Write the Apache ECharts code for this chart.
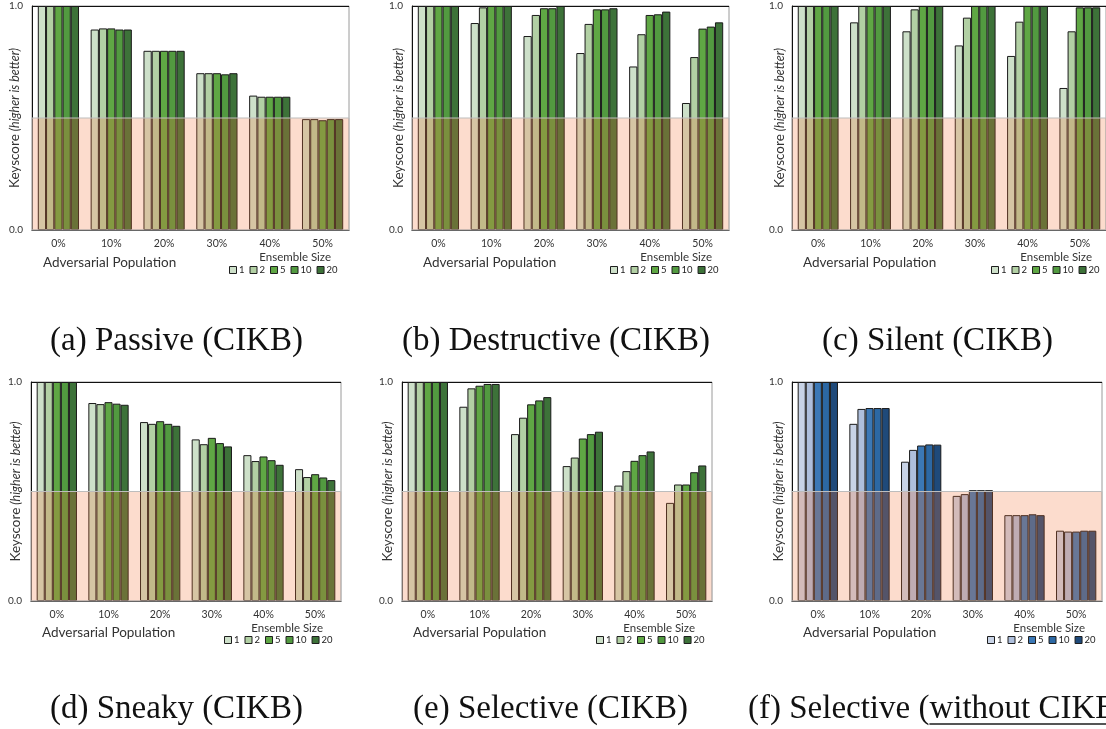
<!DOCTYPE html>
<html>
<head>
<meta charset="utf-8">
<script src="https://cdn.jsdelivr.net/npm/echarts@6/dist/echarts.min.js"></script>
<style>
  html, body { margin: 0; padding: 0; background: #fff; overflow: hidden; }
  #chart { width: 1106px; height: 729px; }
</style>
</head>
<body>
<div id="chart"></div>
<script>
// Adversarial population share on the x axis, one bar per ensemble size.
const categories = ['0%', '10%', '20%', '30%', '40%', '50%'];
const ensembleSizes = ['1', '2', '5', '10', '20'];
const yTicks = [0, 1];

// Keyscore per ensemble size (rows: 1, 2, 5, 10, 20), one value per population share.
const passive = [
  [1.0, 0.895, 0.80, 0.70, 0.60, 0.495],
  [1.0, 0.90, 0.80, 0.70, 0.595, 0.495],
  [1.0, 0.90, 0.80, 0.70, 0.595, 0.49],
  [1.0, 0.895, 0.80, 0.695, 0.595, 0.495],
  [1.0, 0.895, 0.80, 0.70, 0.595, 0.495]
];
const destructive = [
  [1.0, 0.924, 0.866, 0.79, 0.73, 0.567],
  [1.0, 0.994, 0.96, 0.92, 0.874, 0.772],
  [1.0, 1.0, 0.99, 0.985, 0.96, 0.899],
  [1.0, 1.0, 0.99, 0.985, 0.963, 0.908],
  [1.0, 1.0, 1.0, 0.99, 0.975, 0.927]
];
const silent = [
  [1.0, 0.927, 0.887, 0.824, 0.777, 0.634],
  [1.0, 1.0, 0.985, 0.948, 0.93, 0.887],
  [1.0, 1.0, 1.0, 1.0, 1.0, 0.994],
  [1.0, 1.0, 1.0, 1.0, 1.0, 0.994],
  [1.0, 1.0, 1.0, 1.0, 1.0, 0.994]
];
const sneaky = [
  [1.0, 0.904, 0.817, 0.738, 0.666, 0.602],
  [1.0, 0.899, 0.809, 0.716, 0.639, 0.566],
  [1.0, 0.908, 0.821, 0.745, 0.66, 0.579],
  [1.0, 0.901, 0.809, 0.721, 0.643, 0.564],
  [1.0, 0.896, 0.80, 0.706, 0.622, 0.552]
];
const selective = [
  [1.0, 0.887, 0.762, 0.616, 0.527, 0.448],
  [1.0, 0.971, 0.837, 0.655, 0.593, 0.532],
  [1.0, 0.983, 0.898, 0.742, 0.64, 0.532],
  [1.0, 0.991, 0.916, 0.762, 0.666, 0.588],
  [1.0, 0.991, 0.931, 0.773, 0.683, 0.619]
];
const selectiveNoCikb = [
  [1.0, 0.809, 0.636, 0.48, 0.392, 0.321],
  [1.0, 0.877, 0.69, 0.488, 0.392, 0.317],
  [1.0, 0.881, 0.71, 0.506, 0.392, 0.317],
  [1.0, 0.881, 0.715, 0.506, 0.396, 0.321],
  [1.0, 0.881, 0.714, 0.506, 0.392, 0.321]
];
const threshold = 0.5;

const captions = [
  '(a) Passive (CIKB)',
  '(b) Destructive (CIKB)',
  '(c) Silent (CIKB)',
  '(d) Sneaky (CIKB)',
  '(e) Selective (CIKB)',
  '(f) Selective (without CIKB)'
];

const greens = ['#cde0c9', '#b2d0a4', '#5fa744', '#529a40', '#3d7239'];
const blues = ['#c8d3e6', '#aebfdc', '#3b78b6', '#2c68a4', '#1f4a7a'];

const FONT = 'Lato, "Open Sans", sans-serif';
const SERIF = '"Liberation Serif", "DejaVu Serif", serif';
const CAP_SIZE = 33;

// Panel geometry (grid box, y-title gap, legend and caption anchors)
const panels = [
  { data: passive,     colors: greens, grid: [32, 6, 317, 224],  yGap: 10, xTitle: [43, 264],  ensTitle: [331, 258],  legend: [229, 265],  cap: [50, 344] },
  { data: destructive, colors: greens, grid: [412, 6, 317, 224], yGap: 6, xTitle: [423, 264], ensTitle: [712, 258],  legend: [610, 265],  cap: [402, 344] },
  { data: silent,      colors: greens, grid: [792, 6, 317, 224], yGap: 5, xTitle: [803, 264], ensTitle: [1092, 258], legend: [991, 265],  cap: [822, 344] },
  { data: sneaky,      colors: greens, grid: [31, 382, 310, 219],  yGap: 8, xTitle: [42, 634],  ensTitle: [323, 629],  legend: [224, 635],  cap: [50, 712] },
  { data: selective,   colors: greens, grid: [402, 382, 310, 219], yGap: 7, xTitle: [413, 634], ensTitle: [695, 629],  legend: [596, 635],  cap: [413, 712] },
  { data: selectiveNoCikb, colors: blues, grid: [792, 382, 310, 219], yGap: 6, xTitle: [803, 634], ensTitle: [1085, 629], legend: [987, 635], cap: [748, 712] }
];

const grid = [], xAxis = [], yAxis = [], series = [], legend = [], graphic = [];

panels.forEach((p, i) => {
  const [l, t, w, h] = p.grid;
  grid.push({
    left: l, top: t, width: w, height: h,
    show: true, borderColor: '#9a9a9a', borderWidth: 1, backgroundColor: 'transparent'
  });
  xAxis.push({
    type: 'category', gridIndex: i, data: categories,
    axisLine: { show: true, lineStyle: { color: '#111', width: 1 } },
    axisTick: { show: false },
    axisLabel: { fontFamily: FONT, fontSize: 10.5, color: '#333', margin: 8 },
    splitLine: { show: false }
  });
  yAxis.push({
    type: 'value', gridIndex: i, min: yTicks[0], max: yTicks[1], interval: 1,
    axisLine: { show: true, lineStyle: { color: '#111', width: 1 } },
    axisTick: { show: false },
    axisLabel: { fontFamily: FONT, fontSize: 10, color: '#333', margin: 9,
      formatter: v => v.toFixed(1) },
    splitLine: { show: true, lineStyle: { color: '#111', width: 1 } },
    name: '{k|Keyscore} {h|(higher is better)}',
    nameLocation: 'middle', nameRotate: 90, nameGap: p.yGap,
    nameMoveOverlap: false,
    nameTextStyle: {
      fontFamily: FONT, color: '#333',
      rich: {
        k: { fontFamily: FONT, fontSize: 13.5, color: '#333' },
        h: { fontFamily: FONT, fontSize: 12.5, fontStyle: 'italic', color: '#333' }
      }
    }
  });
  ensembleSizes.forEach((name, s) => {
    series.push({
      type: 'bar', name: name, xAxisIndex: i, yAxisIndex: i,
      data: p.data[s],
      barGap: '0%', barCategoryGap: '22%',
      itemStyle: { color: p.colors[s], borderColor: '#1a1a1a', borderWidth: 1 },
      emphasis: { disabled: true },
      animation: false
    });
  });
  // translucent band below the 0.5 threshold, laid over the bars
  series.push({
    type: 'line', name: 'threshold-' + i, xAxisIndex: i, yAxisIndex: i,
    data: categories.map(() => null),
    symbol: 'none', z: 10, animation: false,
    markArea: {
      silent: true, z: 10,
      itemStyle: { color: 'rgba(243,115,55,0.25)', borderColor: '#bdbdbd', borderWidth: 1 },
      data: [[{ yAxis: 0 }, { yAxis: threshold }]]
    }
  });
  legend.push({
    left: p.legend[0], top: p.legend[1], padding: 0, width: 240,
    orient: 'horizontal',
    itemWidth: 7, itemHeight: 7, itemGap: 5, selectedMode: false,
    icon: 'rect',
    textStyle: { fontFamily: FONT, fontSize: 9.5, color: '#222', padding: [0, 0, 0, -2.5] },
    data: ensembleSizes.map((n, s) => ({ name: n, itemStyle: { color: p.colors[s], borderColor: '#1e1e1e', borderWidth: 1 } }))
  });
  graphic.push({
    type: 'text', left: p.xTitle[0], top: p.xTitle[1] - 8,
    style: { text: 'Adversarial Population', fontFamily: FONT, fontSize: 13.5, fill: '#333' }
  });
  graphic.push({
    type: 'text', right: 1106 - p.ensTitle[0], top: p.ensTitle[1] - 7,
    style: { text: 'Ensemble Size', fontFamily: FONT, fontSize: 11.5, fill: '#333' }
  });
  graphic.push({
    type: 'text', left: p.cap[0], top: p.cap[1] - 19,
    style: { text: captions[i], fontFamily: SERIF, fontSize: CAP_SIZE, fill: '#111' }
  });
});

// underline "without CIKB" in the last caption
(function () {
  const ctx = document.createElement('canvas').getContext('2d');
  ctx.font = CAP_SIZE + 'px ' + SERIF;
  const p = panels[5];
  const cap = captions[5];
  const start = cap.indexOf('without');
  const pre = ctx.measureText(cap.slice(0, start)).width;
  const wordW = ctx.measureText('without CIKB').width;
  graphic.push({
    type: 'line', silent: true,
    shape: { x1: p.cap[0] + pre, y1: p.cap[1] + 12, x2: p.cap[0] + pre + wordW, y2: p.cap[1] + 12 },
    style: { stroke: '#555', lineWidth: 2 }
  });
})();

const chart = echarts.init(document.getElementById('chart'), null, { renderer: 'canvas' });
chart.setOption({
  animation: false,
  backgroundColor: '#fff',
  grid, xAxis, yAxis, series, legend, graphic
});
</script>
</body>
</html>
